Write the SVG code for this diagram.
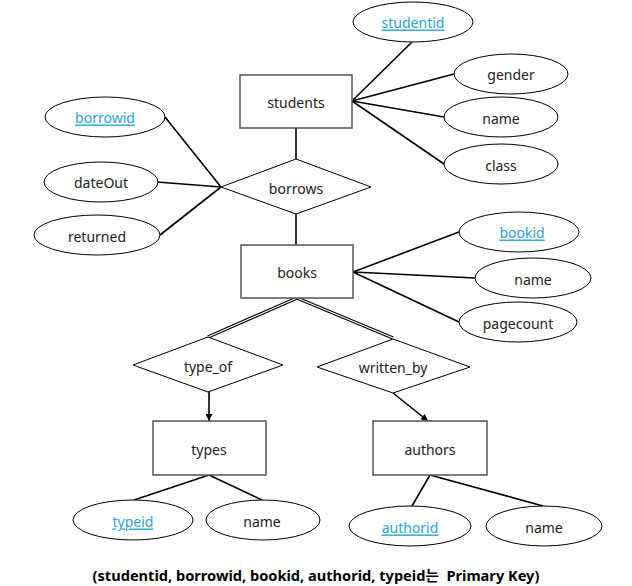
<svg xmlns="http://www.w3.org/2000/svg" width="632" height="586" viewBox="0 0 632 586">
<style>
text{font-family:"Noto Sans","Open Sans","Noto Sans CJK KR",sans-serif;font-size:14px;fill:#222;text-anchor:middle;dominant-baseline:central}
.pk{fill:#29a3dc;text-decoration:underline}
.ent{fill:#fff;stroke:#555;stroke-width:1.5}
.att{fill:#fff;stroke:#000;stroke-width:1}
.rel{fill:#fff;stroke:#000;stroke-width:1}
.ln{stroke:#000;stroke-width:1.6;fill:none}
.dbl1{stroke:#000;stroke-width:3.4;fill:none}
.dbl2{stroke:#fff;stroke-width:1.2;fill:none}
.cap{font-weight:bold;font-size:14.6px;fill:#000;white-space:pre}
</style>
<defs>
<marker id="arr" viewBox="0 0 10 10" refX="10" refY="5" markerWidth="7" markerHeight="7" markerUnits="userSpaceOnUse" orient="auto">
<path d="M0,0 L10,5 L0,10 z" fill="#000"/>
</marker>
</defs>
<rect width="632" height="586" fill="#fff"/>
<g id="connectors">
<line class="ln" x1="352" y1="101" x2="412" y2="42"/>
<line class="ln" x1="352" y1="101" x2="454" y2="74"/>
<line class="ln" x1="352" y1="101" x2="444" y2="117"/>
<line class="ln" x1="352" y1="101" x2="444" y2="164"/>
<line class="ln" x1="296" y1="128" x2="296" y2="159"/>
<line class="ln" x1="296" y1="214" x2="296" y2="245"/>
<line class="ln" x1="165" y1="117" x2="221" y2="187"/>
<line class="ln" x1="157" y1="182" x2="221" y2="187"/>
<line class="ln" x1="160" y1="235" x2="221" y2="187"/>
<line class="ln" x1="353" y1="272" x2="459" y2="232"/>
<line class="ln" x1="353" y1="272" x2="475" y2="278"/>
<line class="ln" x1="353" y1="272" x2="459" y2="322"/>
<line class="dbl1" x1="297" y1="298" x2="208" y2="337"/>
<line class="dbl2" x1="297" y1="298" x2="208" y2="337"/>
<line class="dbl1" x1="297" y1="298" x2="393" y2="338"/>
<line class="dbl2" x1="297" y1="298" x2="393" y2="338"/>
<line class="ln" x1="209" y1="392" x2="209" y2="421" marker-end="url(#arr)"/>
<line class="ln" x1="393" y1="393" x2="428" y2="421" marker-end="url(#arr)"/>
<line class="ln" x1="209" y1="475" x2="134" y2="500"/>
<line class="ln" x1="209" y1="475" x2="262" y2="500"/>
<line class="ln" x1="430" y1="475" x2="412" y2="506"/>
<line class="ln" x1="430" y1="475" x2="543" y2="506"/>
</g>
<g id="students"><rect class="ent" x="240" y="75" width="112" height="53"/><text x="296" y="102">students</text></g>
<g id="studentid"><ellipse class="att" cx="413" cy="22" rx="60" ry="20"/><text class="pk" x="413" y="22">studentid</text></g>
<g id="gender"><ellipse class="att" cx="511" cy="74" rx="57" ry="20"/><text x="511" y="74">gender</text></g>
<g id="students_name"><ellipse class="att" cx="501" cy="117" rx="57" ry="20"/><text x="501" y="118">name</text></g>
<g id="class"><ellipse class="att" cx="501" cy="164" rx="57" ry="20"/><text x="501" y="165">class</text></g>
<g id="borrows"><polygon class="rel" points="296,159 371,187 296,214 221,187"/><text x="296" y="188">borrows</text></g>
<g id="borrowid"><ellipse class="att" cx="105" cy="117" rx="60" ry="20"/><text class="pk" x="105" y="117">borrowid</text></g>
<g id="dateOut"><ellipse class="att" cx="101" cy="182" rx="57" ry="20"/><text x="101" y="182">dateOut</text></g>
<g id="returned"><ellipse class="att" cx="97" cy="235" rx="63" ry="20"/><text x="97" y="236">returned</text></g>
<g id="books"><rect class="ent" x="241" y="245" width="112" height="53"/><text x="297" y="272">books</text></g>
<g id="bookid"><ellipse class="att" cx="519" cy="232" rx="60" ry="20"/><text class="pk" x="522" y="232">bookid</text></g>
<g id="books_name"><ellipse class="att" cx="533" cy="278" rx="58" ry="20"/><text x="533" y="279">name</text></g>
<g id="pagecount"><ellipse class="att" cx="518" cy="322" rx="59" ry="20"/><text x="518" y="323">pagecount</text></g>
<g id="type_of"><polygon class="rel" points="208,337 283,365 208,392 133,365"/><text x="208" y="366">type_of</text></g>
<g id="written_by"><polygon class="rel" points="393,339 470,367 393,393 317,367"/><text x="393" y="367">written_by</text></g>
<g id="types"><rect class="ent" x="153" y="421" width="113" height="54"/><text x="209" y="449">types</text></g>
<g id="authors"><rect class="ent" x="373" y="421" width="114" height="54"/><text x="430" y="449">authors</text></g>
<g id="typeid"><ellipse class="att" cx="133" cy="520" rx="60" ry="20"/><text class="pk" x="133" y="521">typeid</text></g>
<g id="types_name"><ellipse class="att" cx="263" cy="520" rx="57" ry="20"/><text x="262" y="521">name</text></g>
<g id="authorid"><ellipse class="att" cx="410" cy="526" rx="61" ry="20"/><text class="pk" x="410" y="527">authorid</text></g>
<g id="authors_name"><ellipse class="att" cx="544" cy="526" rx="58" ry="20"/><text x="544" y="527">name</text></g>
<text class="cap" x="316" y="575" xml:space="preserve">(studentid, borrowid, bookid, authorid, typeid는  Primary Key)</text>
</svg>
